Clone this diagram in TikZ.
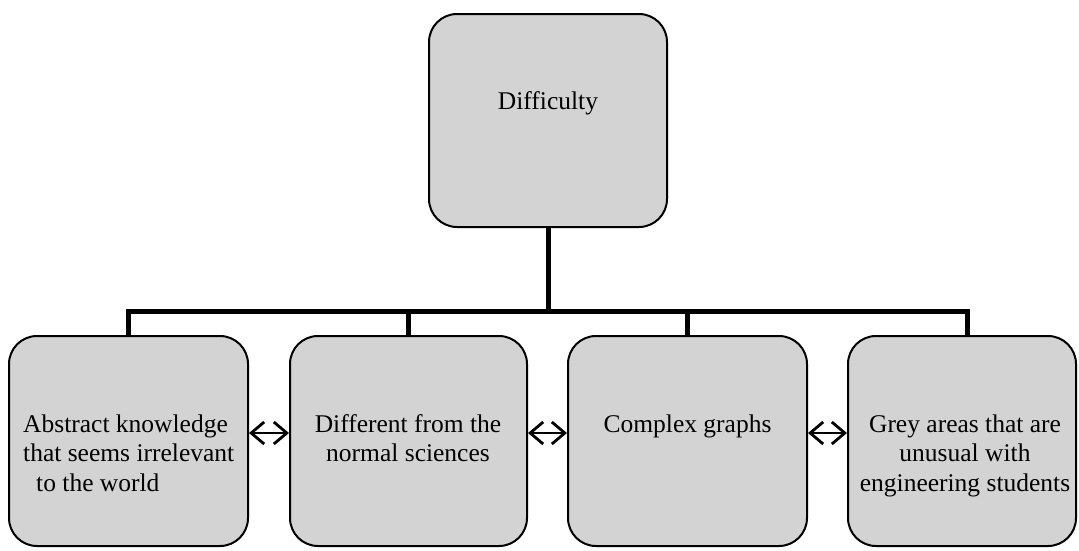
\documentclass[tikz,border=0pt]{standalone}
\usepackage{fontspec}
\setmainfont{Liberation Serif}
\usetikzlibrary{arrows.meta}
\definecolor{boxfill}{RGB}{211,211,211}
\begin{document}
\begin{tikzpicture}[x=1pt,y=-1pt,
  box/.style={draw=black, line width=2pt, fill=boxfill, rounded corners=28pt, inner sep=0pt},
  txt/.style={inner sep=0pt, font=\fontsize{25.5}{29.5}\selectfont},
  conn/.style={line width=5pt, line join=miter},
  link/.style={line width=1.5pt,
    {Straight Barb[length=13pt,width=22pt,line width=2.8pt]}-{Straight Barb[length=13pt,width=22pt,line width=2.8pt]}}
]
\useasboundingbox (0,0) rectangle (1079,550);

% boxes
\node[box, minimum width=238pt, minimum height=213pt] (top) at (548,120.5) {};
\node[box, minimum width=239pt, minimum height=210pt] (b1) at (128.5,441) {};
\node[box, minimum width=237pt, minimum height=210pt] (b2) at (408.5,441) {};
\node[box, minimum width=239pt, minimum height=210pt] (b3) at (687.5,441) {};
\node[box, minimum width=228pt, minimum height=210pt] (b4) at (962,441) {};

% texts
\node[txt, anchor=base] (tt) at (548,109) {Difficulty};
\node[txt, align=left, anchor=north west] (t1) at (23,411.35)
  {\strut Abstract knowledge\\that seems irrelevant\\\hspace{13pt}to the world};
\node[txt, align=center, anchor=north] (t2) at (408,411.35)
  {\strut Different from the\\normal sciences};
\node[txt, align=center, anchor=north] (t3) at (687.5,411.35)
  {\strut Complex graphs};
\node[txt, align=center, anchor=north] (t4) at (965,411.35)
  {\strut Grey areas that are\\unusual with\\engineering students};

% connectors
\coordinate (barL) at (129,311);
\coordinate (barR) at (967,311);
\draw[conn] (top.south) -- (top.south |- barL);
\draw[conn] (b1.north) -- (b1.north |- barL) -- (barR) -- ([xshift=5pt]b4.north);
\draw[conn] (b2.north) -- (b2.north |- barL);
\draw[conn] (b3.north) -- (b3.north |- barL);

% arrows
\draw[link] ([yshift=8pt]b1.east) -- ([yshift=8pt]b2.west);
\draw[link] ([yshift=8pt]b2.east) -- ([yshift=8pt]b3.west);
\draw[link] ([yshift=8pt]b3.east) -- ([yshift=8pt]b4.west);
\end{tikzpicture}
\end{document}
